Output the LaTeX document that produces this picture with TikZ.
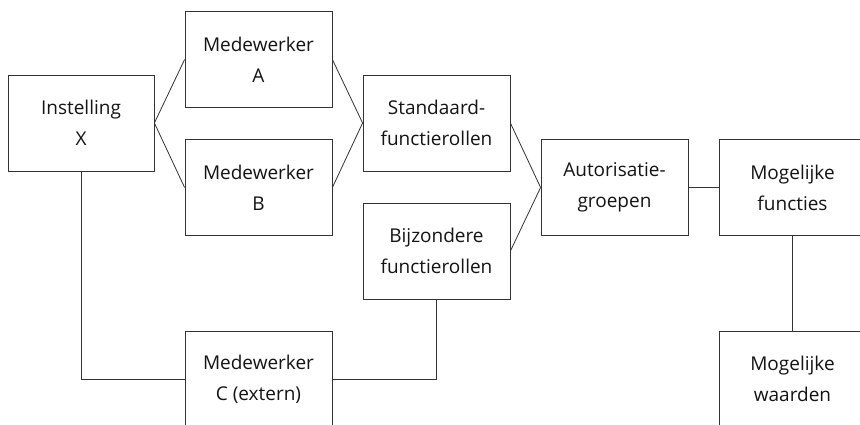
\documentclass[tikz,border=0pt]{standalone}
\usepackage{fontspec}
\setmainfont{Open Sans}
\begin{document}
\begin{tikzpicture}[x=1pt,y=-1pt,
  box/.style={draw=black!80, line width=0.8pt, minimum width=147pt, minimum height=96pt,
    align=center, inner sep=0pt, text=black!92,
    font=\fontsize{19}{31}\selectfont,
    execute at begin node={\rule{0pt}{19pt}}},
  link/.style={draw=black!80, line width=0.8pt}]
\useasboundingbox (0,0) rectangle (860,424);
\clip (0,0) rectangle (860,424);
\fill[white] (0,0) rectangle (860,424);

\node[box, minimum width=146pt] (inst) at (81,123)    {Instelling\\X};
\node[box] (medA) at (258.5,59.5)  {Medewerker\\A};
\node[box] (medB) at (258.5,187.5) {Medewerker\\B};
\node[box] (std)  at (436.5,123)   {Standaard-\\functierollen};
\node[box] (bij)  at (436.5,251)   {Bijzondere\\functierollen};
\node[box] (aut)  at (614.5,187.5) {Autorisatie-\\groepen};
\node[box] (mfun) at (792.5,187.5) {Mogelijke\\functies};
\node[box] (medC) at (258.5,379)   {Medewerker\\C (extern)};
\node[box] (mwaa) at (792.5,379)   {Mogelijke\\waarden};

\draw[link] (inst.east) -- (medA.west);
\draw[link] (inst.east) -- (medB.west);
\draw[link] (medA.east) -- (std.west);
\draw[link] (medB.east) -- (std.west);
\draw[link] (std.east) -- (aut.west);
\draw[link] (bij.east) -- (aut.west);
\draw[link] (aut.east) -- (mfun.west);
\draw[link] (mfun.south) -- (mwaa.north);
\draw[link] (inst.south) |- (medC.west);
\draw[link] (medC.east) -| (bij.south);
\end{tikzpicture}
\end{document}
